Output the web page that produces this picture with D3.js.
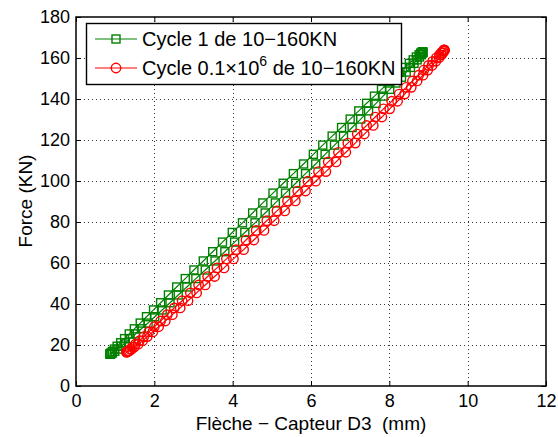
<!DOCTYPE html>
<html>
<head>
<meta charset="utf-8">
<script src="https://cdn.jsdelivr.net/npm/d3@7"></script>
<style>
  body { margin: 0; background: #fff; }
  svg text { font-family: "Liberation Sans", Arial, sans-serif; fill: #000; }
</style>
</head>
<body>
<svg id="chart" width="558" height="437"></svg>
<script>
// force samples of one half cycle (10 -> 160 KN ramp), kN
const forceCycle1 = [15.5,15.7,16.1,16.9,18.0,19.4,21.1,23.1,25.4,27.9,30.7,33.8,37.1,40.6,44.4,48.3,52.4,56.6,61.0,65.5,70.2,74.9,79.6,84.4,89.3,94.1,98.9,103.6,108.3,113.0,117.5,121.9,126.1,130.2,134.2,137.9,141.4,144.7,147.8,150.6,153.1,155.4,157.4,159.1,160.5,161.6,162.4,162.8,163.0];
// deflection (mm) while loading / unloading, same order as the forces
const loadCycle1 = [0.87,0.87,0.89,0.93,0.98,1.05,1.14,1.24,1.36,1.49,1.64,1.80,1.98,2.16,2.36,2.57,2.79,3.01,3.25,3.49,3.74,3.99,4.25,4.51,4.77,5.03,5.29,5.55,5.81,6.06,6.30,6.54,6.78,7.00,7.22,7.42,7.62,7.80,7.97,8.13,8.27,8.40,8.51,8.61,8.69,8.76,8.80,8.84,8.85];
const unloadCycle1 = [0.87,0.89,0.93,0.99,1.07,1.16,1.26,1.38,1.52,1.67,1.84,2.01,2.20,2.40,2.61,2.83,3.06,3.30,3.55,3.80,4.05,4.31,4.57,4.83,5.09,5.35,5.61,5.86,6.12,6.36,6.60,6.83,7.05,7.27,7.47,7.66,7.84,8.01,8.17,8.31,8.43,8.54,8.63,8.71,8.77,8.82,8.85,8.86,8.85];

const forceCycle2 = [16.5,16.7,17.1,17.9,19.0,20.4,22.1,24.1,26.4,28.9,31.7,34.8,38.1,41.6,45.4,49.3,53.4,57.6,62.0,66.5,71.2,75.9,80.6,85.4,90.3,95.1,99.9,104.6,109.3,114.0,118.5,122.9,127.1,131.2,135.2,138.9,142.4,145.7,148.8,151.6,154.1,156.4,158.4,160.1,161.5,162.6,163.4,163.8,164.0];
const loadCycle2 = [1.29,1.30,1.33,1.38,1.44,1.52,1.62,1.73,1.86,2.00,2.16,2.33,2.51,2.71,2.92,3.13,3.36,3.60,3.84,4.09,4.34,4.60,4.87,5.13,5.40,5.66,5.92,6.19,6.44,6.70,6.94,7.18,7.42,7.64,7.85,8.06,8.25,8.43,8.59,8.75,8.88,9.00,9.11,9.20,9.28,9.33,9.37,9.39,9.40];
const unloadCycle2 = [1.29,1.32,1.36,1.42,1.49,1.59,1.70,1.82,1.96,2.11,2.28,2.46,2.66,2.86,3.08,3.30,3.54,3.78,4.02,4.28,4.54,4.80,5.06,5.33,5.60,5.86,6.12,6.38,6.64,6.89,7.13,7.36,7.59,7.81,8.01,8.21,8.39,8.56,8.71,8.86,8.98,9.09,9.19,9.27,9.33,9.37,9.40,9.41,9.40];

const xTicks = [0,2,4,6,8,10,12];
const yTicks = [0,20,40,60,80,100,120,140,160,180];

const legendLabels = ["Cycle 1 de 10\u2212160KN", "Cycle 0.1\u00d710", "6", " de 10\u2212160KN"];

const svg = d3.select("#chart");

const x = d3.scaleLinear().domain([0,12]).range([76,546]);
const y = d3.scaleLinear().domain([0,180]).range([386,17]);

// loop = loading branch up, then unloading branch back down
function loop(force, load, unload) {
  const up = force.map((f,i) => ({d: load[i], f: f}));
  const down = force.map((f,i) => ({d: unload[i], f: f})).reverse();
  return up.concat(down);
}
const series = [
  {pts: loop(forceCycle1, loadCycle1, unloadCycle1), color: "#008000", marker: "square"},
  {pts: loop(forceCycle2, loadCycle2, unloadCycle2), color: "#ff0000", marker: "circle"}
];

// grid
const grid = svg.append("g")
  .attr("stroke", "#333").attr("stroke-width", 1)
  .attr("stroke-dasharray", "1,3").attr("shape-rendering", "crispEdges");
grid.selectAll(".gx").data(xTicks.slice(1,-1)).enter().append("line")
  .attr("x1", d => Math.round(x(d))+0.5).attr("x2", d => Math.round(x(d))+0.5)
  .attr("y1", y(0)).attr("y2", y(180));
grid.selectAll(".gy").data(yTicks.slice(1,-1)).enter().append("line")
  .attr("y1", d => Math.round(y(d))+0.5).attr("y2", d => Math.round(y(d))+0.5)
  .attr("x1", x(0)).attr("x2", x(12));

// data
const line = d3.line().x(p => x(p.d)).y(p => y(p.f));
series.forEach(s => {
  const g = svg.append("g");
  g.append("path").datum(s.pts).attr("d", line)
    .attr("fill", "none").attr("stroke", s.color).attr("stroke-width", 1.2);
  if (s.marker == "square") {
    g.selectAll("rect").data(s.pts).enter().append("rect")
      .attr("x", p => x(p.d)-4).attr("y", p => y(p.f)-4)
      .attr("width", 8).attr("height", 8)
      .attr("fill", "none").attr("stroke", s.color).attr("stroke-width", 1.4);
  } else {
    g.selectAll("circle").data(s.pts).enter().append("circle")
      .attr("cx", p => x(p.d)).attr("cy", p => y(p.f)).attr("r", 4.7)
      .attr("fill", "none").attr("stroke", s.color).attr("stroke-width", 1.4);
  }
});

// axes (matlab style, ticks inside, box on)
function styleAxis(g) {
  g.select(".domain").remove();
  g.selectAll("text").attr("font-size", 18);
  g.selectAll("line").attr("stroke", "#000");
}
svg.append("g").attr("transform", "translate(0,386)")
  .call(d3.axisBottom(x).tickValues(xTicks).tickSize(-5).tickPadding(8).tickFormat(d3.format("d")))
  .call(styleAxis);
svg.append("g").attr("transform", "translate(76,0)")
  .call(d3.axisLeft(y).tickValues(yTicks).tickSize(-5).tickPadding(6).tickFormat(d3.format("d")))
  .call(styleAxis);
svg.append("g").attr("transform", "translate(0,17)")
  .call(d3.axisTop(x).tickValues(xTicks).tickSize(-5).tickFormat(""))
  .call(styleAxis);
svg.append("g").attr("transform", "translate(546,0)")
  .call(d3.axisRight(y).tickValues(yTicks).tickSize(-5).tickFormat(""))
  .call(styleAxis);
svg.append("rect")
  .attr("x", x(0)).attr("y", y(180))
  .attr("width", x(12)-x(0)).attr("height", y(0)-y(180))
  .attr("fill", "none").attr("stroke", "#000").attr("stroke-width", 1.5);

// axis labels
svg.append("text").attr("x", 311).attr("y", 430)
  .attr("text-anchor", "middle").attr("font-size", 19)
  .attr("xml:space", "preserve").style("white-space", "pre")
  .text("Fl\u00e8che \u2212 Capteur D3  (mm)");
svg.append("text").attr("transform", "translate(32,201) rotate(-90)")
  .attr("text-anchor", "middle").attr("font-size", 19)
  .text("Force (KN)");

// legend
const lg = svg.append("g");
lg.append("rect").attr("x", 86.5).attr("y", 23.5).attr("width", 315).attr("height", 61)
  .attr("fill", "#fff").attr("stroke", "#000").attr("stroke-width", 1.4);
const rows = [39, 68];
series.forEach((s, i) => {
  lg.append("line").attr("x1", 95).attr("x2", 137).attr("y1", rows[i]).attr("y2", rows[i])
    .attr("stroke", s.color).attr("stroke-width", 1.2);
  if (s.marker == "square") {
    lg.append("rect").attr("x", 112).attr("y", rows[i]-4).attr("width", 8).attr("height", 8)
      .attr("fill", "none").attr("stroke", s.color).attr("stroke-width", 1.4);
  } else {
    lg.append("circle").attr("cx", 116).attr("cy", rows[i]).attr("r", 4.7)
      .attr("fill", "none").attr("stroke", s.color).attr("stroke-width", 1.4);
  }
});
lg.append("text").attr("x", 142).attr("y", rows[0]+7).attr("font-size", 20).text(legendLabels[0]);
const t2 = lg.append("text").attr("x", 142).attr("y", rows[1]+7).attr("font-size", 20)
  .attr("xml:space", "preserve").style("white-space", "pre");
t2.append("tspan").text(legendLabels[1]);
t2.append("tspan").attr("font-size", 14).attr("dy", -9).text(legendLabels[2]);
t2.append("tspan").attr("dy", 9).text(legendLabels[3]);
</script>
</body>
</html>
